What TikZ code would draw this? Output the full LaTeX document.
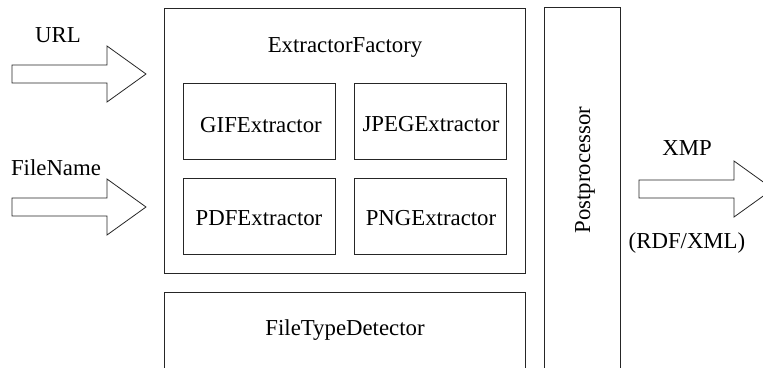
\documentclass[tikz,border=0pt]{standalone}
\usepackage{fontspec}
\setmainfont{Liberation Serif}
\begin{document}
\begin{tikzpicture}[x=1pt,y=-1pt,
  box/.style={draw=black!85,line width=0.8pt,rectangle,inner sep=0pt,outer sep=0pt},
  txt/.style={inner sep=0pt,anchor=base,font=\fontsize{22.8}{27}\selectfont},
  pics/blockarr/.style={code={
    \draw[draw=black!85,line width=0.8pt,line join=miter]
      (0,-9) -- (95,-9) -- (95,-28) -- (134,0) -- (95,28) -- (95,9) -- (0,9) -- cycle;}}]
\useasboundingbox (0,0) rectangle (763,367);
\clip (0,0) rectangle (763,367);
% boxes
\node[box,minimum width=361pt,minimum height=265pt] (factory) at (344.5,140.5) {};
\node[box,minimum width=152pt,minimum height=76pt] (gif) at (259,121) {};
\node[box,minimum width=152pt,minimum height=76pt] (jpeg) at (430,121) {};
\node[box,minimum width=152pt,minimum height=76pt] (pdf) at (259,216) {};
\node[box,minimum width=152pt,minimum height=76pt] (png) at (430,216) {};
\node[box,minimum width=361pt,minimum height=108pt] (detector) at (344.5,346) {};
\node[box,minimum width=76pt,minimum height=393pt] (post) at (582,203.5) {};
% labels
\node[txt] (tfactory) at (345,52) {ExtractorFactory};
\node[txt] (tgif) at (261,132) {GIFExtractor};
\node[txt] (tjpeg) at (431,131) {JPEGExtractor};
\node[txt] (tpdf) at (259,225) {PDFExtractor};
\node[txt] (tpng) at (431,225) {PNGExtractor};
\node[txt] (tdetector) at (345,335) {FileTypeDetector};
\node[txt,rotate=90] (tpost) at (590,170) {Postprocessor};
\node[txt] (turl) at (58,42) {URL};
\node[txt] (tfile) at (56,175) {FileName};
\node[txt] (txmp) at (687,155) {XMP};
\node[txt] (trdf) at (687,248) {(RDF/XML)};
% block arrows
\pic at (12,74) {blockarr};
\pic at (12,207) {blockarr};
\pic at (639,189) {blockarr};
\end{tikzpicture}
\end{document}
